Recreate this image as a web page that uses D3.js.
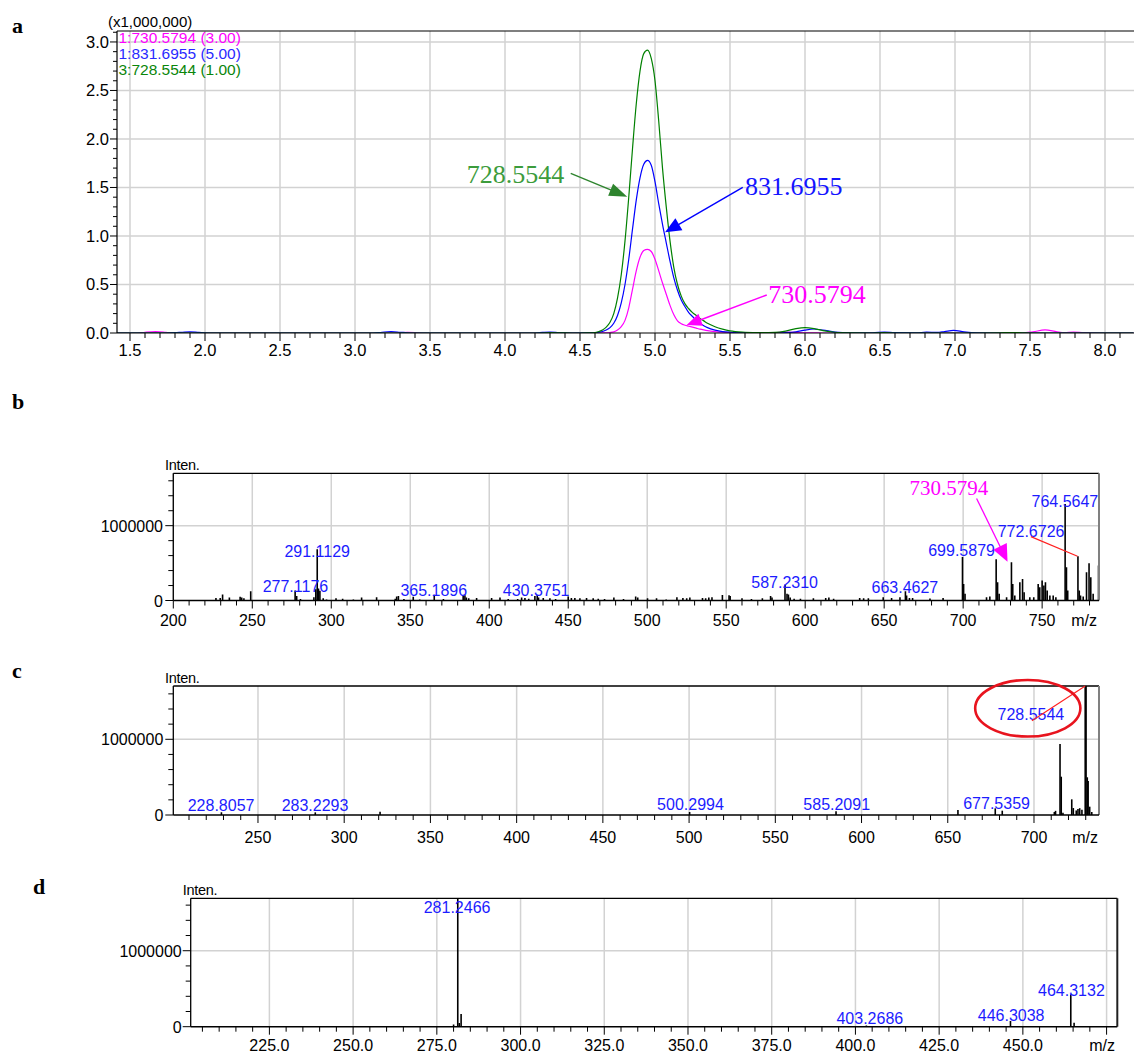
<!DOCTYPE html>
<html><head><meta charset="utf-8">
<script src="https://cdn.jsdelivr.net/npm/d3@7"></script>
<style>body{margin:0;background:#fff}svg{display:block}</style>
</head><body><svg id="c" width="1134" height="1055"></svg>
<script>
// ---------------- Panel a: extracted ion chromatograms ----------------
const rtA = [1.41,1.55,1.6,1.67,1.74,1.8,1.85,1.9,1.96,2.05,
 2.6,3.12,3.18,3.24,3.3,3.35,3.4,3.47,3.8,4.2,
 4.25,4.3,4.36,4.45,4.55,
 4.6,4.625,4.65,4.675,4.7,4.725,4.75,4.775,4.8,4.825,
 4.85,4.875,4.9,4.925,4.95,4.975,5.0,5.025,5.05,5.075,
 5.1,5.125,5.15,5.175,5.2,5.225,5.25,5.275,5.3,5.325,5.35,
 5.4,5.45,5.5,5.6,5.7,5.8,5.87,5.94,6.0,6.06,
 6.12,6.2,6.3,6.45,6.53,6.6,6.74,6.81,6.88,6.93,
 6.99,7.06,7.15,7.3,7.37,7.45,7.52,7.6,7.68,7.73,
 7.79,7.86,8.0,8.19];
const magentaA = [0,0,0.008,0.015,0.008,0,0,0,0,0,
 0,0,0,0,0.003,0.006,0.005,0,0,0,
 0,0,0,0,0,
 0,0,0.001,0.002,0.005,0.012,0.03,0.065,0.13,0.26,
 0.45,0.64,0.78,0.85,0.863,0.84,0.76,0.64,0.515,0.4,
 0.285,0.19,0.125,0.095,0.08,0.07,0.06,0.05,0.04,0.032,0.025,
 0.015,0.008,0.004,0.001,0,0.004,0.01,0.006,0.002,0.001,
 0,0,0,0,0,0,0,0,0,0,
 0,0,0,0,0,0,0.012,0.032,0.012,0.004,
 0.01,0.003,0,0];
const blueA = [0,0,0,0,0,0.003,0.008,0.012,0.006,0,
 0,0,0.008,0.014,0.008,0.002,0,0,0,0,
 0.006,0.01,0.004,0,0.001,
 0.003,0.008,0.015,0.03,0.055,0.1,0.18,0.31,0.5,0.76,
 1.07,1.37,1.6,1.74,1.78,1.73,1.56,1.33,1.12,0.93,
 0.74,0.57,0.44,0.34,0.27,0.21,0.17,0.13,0.1,0.075,0.055,
 0.03,0.015,0.008,0.003,0.001,0,0.003,0.012,0.03,0.041,
 0.03,0.01,0.002,0.002,0.01,0.004,0.002,0.008,0.006,0.015,
 0.027,0.012,0.002,0,0,0,0,0,0,0,
 0,0,0,0];
const greenA = [0,0,0,0,0,0,0,0,0,0,
 0,0,0,0,0,0,0,0,0,0,
 0,0.003,0.002,0,0.002,
 0.005,0.015,0.03,0.06,0.11,0.2,0.36,0.6,0.95,1.4,
 1.9,2.36,2.7,2.88,2.915,2.83,2.6,2.18,1.7,1.3,
 0.95,0.68,0.5,0.38,0.3,0.25,0.21,0.18,0.15,0.125,0.1,
 0.065,0.04,0.022,0.008,0.003,0.006,0.02,0.045,0.055,0.045,
 0.025,0.008,0.002,0,0.003,0,0,0,0,0,
 0,0,0,0.002,0.005,0.002,0,0,0,0,
 0,0,0,0];
const legendA = ["1:730.5794 (3.00)", "1:831.6955 (5.00)", "3:728.5544 (1.00)"];
const xTicksA = [1.5,2.0,2.5,3.0,3.5,4.0,4.5,5.0,5.5,6.0,6.5,7.0,7.5,8.0];
const yTicksA = [0,0.5,1.0,1.5,2.0,2.5,3.0];
// annotations: [label, labelT, labelV, fromT, fromV, toT, toV]
const annotA = [
  ["728.5544", 3.745, 1.543, 4.438, 1.646, 4.815, 1.405],
  ["831.6955", 5.600, 1.423, 5.585, 1.502, 5.067, 1.038],
  ["730.5794", 5.755, 0.306, 5.745, 0.392, 5.211, 0.082]
];

// ---------------- Panel b: MS spectrum ----------------
const mzB = [227.0,229.7,231.2,235.5,242.3,243.3,244.7,249.0,277.12,278.1,
 280.5,289.0,290.2,291.11,291.9,292.8,294.9,297.0,303.0,307.2,
 314.0,319.2,328.7,340.5,341.4,342.5,346.0,351.9,356.0,365.19,
 371.0,383.5,384.6,385.5,387.0,392.0,401.5,406.8,412.0,418.0,
 420.5,422.6,425.0,428.9,430.38,431.2,434.2,438.4,442.0,450.0,
 452.0,454.2,457.4,461.6,465.8,469.0,473.0,478.9,485.0,492.7,
 494.0,500.2,505.9,512.0,518.8,522.6,525.0,527.0,535.0,537.0,
 539.0,541.0,547.6,551.8,552.5,560.0,566.0,572.9,578.1,579.0,
 587.23,588.5,589.4,590.5,593.0,597.0,605.2,613.0,615.0,618.0,
 634.5,637.0,640.0,649.4,654.7,660.0,663.46,664.2,666.0,668.0,
 679.0,687.3,699.59,700.3,701.2,714.8,716.9,720.9,721.8,722.8,
 727.5,730.58,731.4,732.7,735.9,737.6,738.6,742.2,744.7,747.5,
 748.5,750.0,751.1,752.1,753.2,754.9,757.0,758.7,764.56,765.4,
 766.2,772.67,773.5,774.3,776.0,778.1,779.7,780.8,782.3,785.7];
const intB = [35000,35000,80000,40000,50000,40000,30000,125000,133000,60000,
 20000,45000,150000,685000,160000,130000,30000,15000,30000,25000,
 15000,40000,45000,25000,55000,60000,20000,50000,15000,76000,
 20000,65000,70000,40000,30000,35000,35000,40000,20000,20000,
 40000,35000,25000,60000,72000,40000,35000,30000,20000,55000,
 35000,35000,30000,35000,30000,25000,20000,40000,20000,55000,
 40000,30000,30000,15000,45000,35000,30000,40000,35000,30000,
 40000,45000,75000,70000,60000,30000,20000,30000,60000,40000,
 215000,90000,80000,40000,25000,25000,30000,35000,40000,25000,
 35000,30000,30000,45000,35000,45000,124000,67000,35000,35000,
 27000,35000,582000,222000,90000,45000,53000,551000,245000,90000,
 45000,511000,222000,67000,245000,289000,110000,45000,45000,222000,
 178000,267000,200000,245000,133000,67000,67000,45000,1290000,444000,
 133000,591000,133000,67000,53000,378000,498000,311000,89000,467000];
// peak labels: [text, centre m/z, baseline intensity]
const labelsB = [["277.1176",277.3,118000],["291.1129",291.1,585000],["365.1896",364.9,60000],
 ["430.3751",429.7,60000],["587.2310",587.0,167000],["663.4627",663.1,96000],
 ["699.5879",699.0,599000],["772.6726",743.0,853000],["764.5647",764.4,1246000]];
const xTicksB = [200,250,300,350,400,450,500,550,600,650,700,750];

// ---------------- Panel c: MS/MS spectrum ----------------
const mzC = [228.81,283.23,320.8,500.3,585.21,655.9,677.54,681.6,711.8,712.5,
 715.1,715.8,716.8,721.9,722.8,724.5,725.5,726.5,727.8,729.7,
 730.2,730.9,731.4,732.3,733.5];
const intC = [35000,35000,44000,40000,50000,66000,88000,57000,40000,55000,
 938000,506000,30000,207000,92000,60000,80000,90000,70000,1800000,
 1800000,498000,450000,110000,40000];
const labelsC = [["228.8057",228.6,53000],["283.2293",283.1,53000],["500.2994",500.8,66000],
 ["585.2091",585.6,66000],["677.5359",678.3,79000],["728.5544",698.2,1255000]];
const xTicksC = [250,300,350,400,450,500,550,600,650,700];

// ---------------- Panel d: MS/MS spectrum ----------------
const mzD = [280.0,281.25,281.7,282.25,403.27,446.3,464.31,465.3];
const intD = [30000,1690000,50000,167000,15000,75000,426000,53000];
const labelsD = [["281.2466",281.05,1500000],["403.2686",404.3,35000],
 ["446.3038",446.5,79000],["464.3132",464.5,408000]];
const xTicksD = [225,250,275,300,325,350,375,400,425,450,475];

// ====================== drawing ======================
const svg = d3.select("#c");
const SANS = "'Liberation Sans', Arial, sans-serif";
const SERIF = "'Liberation Serif', 'Times New Roman', serif";
const GRID = "#d2d2d2";
const LBLUE = "#1c1cff";

function arrow(g, x1, y1, x2, y2, color, len, wid, sw) {
  const dx = x2 - x1, dy = y2 - y1, L = Math.hypot(dx, dy);
  const ux = dx / L, uy = dy / L, px = -uy, py = ux;
  const bx = x2 - ux * len, by = y2 - uy * len;
  g.append("line").attr("x1", x1).attr("y1", y1).attr("x2", bx + ux * 2).attr("y2", by + uy * 2)
    .attr("stroke", color).attr("stroke-width", sw || 1.3);
  g.append("polygon").attr("points", [[x2, y2], [bx + px * wid / 2, by + py * wid / 2], [bx - px * wid / 2, by - py * wid / 2]].map(p => p.join(",")).join(" "))
    .attr("fill", color);
}

function letter(t, x, y) {
  svg.append("text").attr("x", x).attr("y", y).text(t)
    .attr("font-family", SERIF).attr("font-weight", "bold").attr("font-size", 22).attr("fill", "#000");
}

// ---- panel a ----
(function () {
  const L = 117, R = 1134, T = 31, B = 333;
  const x = d3.scaleLinear().domain([1.4133, 8.1933]).range([L, R]);
  const y = d3.scaleLinear().domain([0, 3.113]).range([B, T]);
  const g = svg.append("g");
  g.selectAll(null).data(xTicksA).join("line")
    .attr("x1", d => x(d)).attr("x2", d => x(d)).attr("y1", T).attr("y2", B)
    .attr("stroke", GRID).attr("stroke-width", 1.5);
  g.selectAll(null).data(yTicksA.slice(1)).join("line")
    .attr("x1", L).attr("x2", R).attr("y1", d => y(d)).attr("y2", d => y(d))
    .attr("stroke", GRID).attr("stroke-width", 1.5);

  svg.append("clipPath").attr("id", "clipA").append("rect")
    .attr("x", L).attr("y", T).attr("width", R - L).attr("height", B - T);
  const line = d3.line().x(d => x(d[0])).y(d => y(d[1])).curve(d3.curveMonotoneX);
  const series = [[magentaA, "#ff00ff"], [blueA, "#0000ff"], [greenA, "#008000"]];
  series.forEach(([vals, col]) => {
    g.append("path").attr("clip-path", "url(#clipA)")
      .attr("d", line(rtA.map((t, i) => [t, vals[i]])))
      .attr("fill", "none").attr("stroke", col).attr("stroke-width", 1.2);
  });

  // frame & axes
  g.append("line").attr("x1", L).attr("x2", R).attr("y1", T).attr("y2", T).attr("stroke", "#000").attr("stroke-width", 1.2);
  g.append("line").attr("x1", L).attr("x2", L).attr("y1", T).attr("y2", B).attr("stroke", "#000").attr("stroke-width", 1.2);
  g.append("line").attr("x1", L).attr("x2", R).attr("y1", B).attr("y2", B).attr("stroke", "#000").attr("stroke-width", 1.2);

  const xMinor = d3.range(15, 82).map(i => i / 10);
  g.selectAll(null).data(xMinor).join("line")
    .attr("x1", d => x(d)).attr("x2", d => x(d)).attr("y1", B)
    .attr("y2", (d, i) => (Math.round(d * 10) % 5 === 0) ? B + 8 : B + 5)
    .attr("stroke", "#000").attr("stroke-width", 1);
  const yMinor = d3.range(0, 32).map(i => i / 10);
  g.selectAll(null).data(yMinor).join("line")
    .attr("y1", d => y(d)).attr("y2", d => y(d)).attr("x1", L)
    .attr("x2", d => (Math.round(d * 10) % 5 === 0) ? L - 7 : L - 4)
    .attr("stroke", "#000").attr("stroke-width", 1);

  g.selectAll(null).data(xTicksA).join("text")
    .attr("x", d => x(d)).attr("y", 356).attr("text-anchor", "middle")
    .attr("font-family", SANS).attr("font-size", 16.5).text(d3.format(".1f"));
  g.selectAll(null).data(yTicksA).join("text")
    .attr("x", 109).attr("y", d => y(d) + 6).attr("text-anchor", "end")
    .attr("font-family", SANS).attr("font-size", 16.5).text(d3.format(".1f"));
  g.append("text").attr("x", 108).attr("y", 26.5).attr("font-family", SANS).attr("font-size", 15).text("(x1,000,000)");

  const legCols = ["#ff00ff", "#2a2aff", "#0a860a"];
  legendA.forEach((t, i) => g.append("text").attr("x", 118.5).attr("y", 42.5 + i * 16)
    .attr("font-family", SANS).attr("font-size", 15.5).attr("fill", legCols[i]).text(t));

  const aCols = [["#3c9c3c", "#2e842e", 18, 13], ["#1414ff", "#0000ff", 16, 14], ["#ff00ff", "#ff00ff", 15, 13]];
  annotA.forEach((a, i) => {
    arrow(g, x(a[3]), y(a[4]), x(a[5]), y(a[6]), aCols[i][1], aCols[i][2], aCols[i][3], 1.4);
    g.append("text").attr("x", x(a[1])).attr("y", y(a[2])).attr("font-family", SERIF)
      .attr("font-size", 26).attr("fill", aCols[i][0]).text(a[0]);
  });
})();

// ---- spectra ----
function spectrum(p) {
  const x = d3.scaleLinear().domain(p.xDomain).range([p.left, p.right]);
  const y = d3.scaleLinear().domain([0, p.yMax]).range([p.bottom, p.top]);
  const g = svg.append("g");
  const id = "clip" + p.name;
  svg.append("clipPath").attr("id", id).append("rect")
    .attr("x", p.left).attr("y", p.top).attr("width", p.right - p.left).attr("height", p.bottom - p.top);
  g.selectAll(null).data(p.xTicks).join("line")
    .attr("x1", d => x(d)).attr("x2", d => x(d)).attr("y1", p.top).attr("y2", p.bottom)
    .attr("stroke", GRID).attr("stroke-width", 1.5);
  g.append("line").attr("x1", p.left).attr("x2", p.right).attr("y1", y(1e6)).attr("y2", y(1e6))
    .attr("stroke", GRID).attr("stroke-width", 1.5);

  g.append("g").attr("clip-path", `url(#${id})`).selectAll("line")
    .data(p.mz.map((m, i) => [m, p.int[i]])).join("line")
    .attr("x1", d => x(d[0])).attr("x2", d => x(d[0])).attr("y1", y(0)).attr("y2", d => y(d[1]))
    .attr("stroke", "#000").attr("stroke-width", 1.6);

  // frame
  g.append("line").attr("x1", p.left).attr("x2", p.right).attr("y1", p.top).attr("y2", p.top).attr("stroke", "#000").attr("stroke-width", 1.3);
  g.append("line").attr("x1", p.right).attr("x2", p.right).attr("y1", p.top).attr("y2", p.bottom).attr("stroke", p.rightCol).attr("stroke-width", 2);
  g.append("line").attr("x1", p.left).attr("x2", p.left).attr("y1", p.top).attr("y2", p.bottom).attr("stroke", "#000").attr("stroke-width", 1.3);
  g.append("line").attr("x1", p.left).attr("x2", p.right).attr("y1", p.bottom).attr("y2", p.bottom).attr("stroke", "#000").attr("stroke-width", 1.6);

  // x ticks
  const minors = d3.range(Math.ceil(p.xDomain[0] / p.minor), Math.floor(p.xDomain[1] / p.minor) + 1).map(i => i * p.minor);
  g.selectAll(null).data(minors).join("line")
    .attr("x1", d => x(d)).attr("x2", d => x(d)).attr("y1", p.bottom)
    .attr("y2", d => (Math.round(d) % p.major === 0) ? p.bottom + 8 : p.bottom + 5)
    .attr("stroke", "#000").attr("stroke-width", 1);
  // y ticks
  const yMin = d3.range(0, Math.floor(p.yMax / 200000) + 1).map(i => i * 200000);
  g.selectAll(null).data(yMin).join("line")
    .attr("y1", d => y(d)).attr("y2", d => y(d)).attr("x1", p.left)
    .attr("x2", d => (d % 1000000 === 0) ? p.left - 8 : p.left - 5)
    .attr("stroke", "#000").attr("stroke-width", 1);

  g.selectAll(null).data(p.xLabels).join("text")
    .attr("x", d => x(d)).attr("y", p.labelY).attr("text-anchor", "middle")
    .attr("font-family", SANS).attr("font-size", 16).text(p.fmt);
  g.append("text").attr("x", p.mzX).attr("y", p.labelY).attr("text-anchor", "end")
    .attr("font-family", SANS).attr("font-size", 16).text("m/z");
  g.selectAll(null).data([0, 1000000]).join("text")
    .attr("x", p.yLabX).attr("y", d => y(d) + 6).attr("text-anchor", "end")
    .attr("font-family", SANS).attr("font-size", 16).text(d => String(d));
  g.append("text").attr("x", p.intenX).attr("y", p.top - 3.5).attr("font-family", SANS)
    .attr("font-size", 14.5).attr("letter-spacing", -0.3).text("Inten.");

  g.selectAll(null).data(p.labels).join("text")
    .attr("x", d => x(d[1])).attr("y", d => y(d[2])).attr("text-anchor", "middle")
    .attr("font-family", SANS).attr("font-size", 16).attr("fill", LBLUE).text(d => d[0]);
  return { x, y, g };
}

const pb = spectrum({ name: "b", left: 173.3, right: 1099, top: 473.3, bottom: 600.5,
  xDomain: [200, 786], yMax: 1700000, major: 50, minor: 10, xTicks: xTicksB, xLabels: xTicksB,
  fmt: d => String(d), labelY: 626, mzX: 1097, yLabX: 163, intenX: 165, rightCol: "#808080",
  mz: mzB, int: intB, labels: labelsB });
// red leader line to 772.6726 and magenta arrow to 730.5794
pb.g.append("line").attr("x1", pb.x(742.9)).attr("y1", pb.y(853000)).attr("x2", pb.x(772.4)).attr("y2", pb.y(591000))
  .attr("stroke", "#ff2020").attr("stroke-width", 1.2);
arrow(pb.g, pb.x(708.5), pb.y(1364000), pb.x(728.1), pb.y(519000), "#ff00ff", 17, 15, 1.3);
pb.g.append("text").attr("x", pb.x(690.9)).attr("y", pb.y(1410000)).attr("text-anchor", "middle")
  .attr("font-family", SERIF).attr("font-size", 21).attr("fill", "#ff00ff").text("730.5794");

const pc = spectrum({ name: "c", left: 173.3, right: 1099, top: 686, bottom: 815,
  xDomain: [200.9, 737.7], yMax: 1704000, major: 50, minor: 10, xTicks: xTicksC, xLabels: xTicksC,
  fmt: d => String(d), labelY: 842.5, mzX: 1098, yLabX: 163.3, intenX: 165, rightCol: "#808080",
  mz: mzC, int: intC, labels: labelsC });
pc.g.append("line").attr("x1", pc.x(698.8)).attr("y1", pc.y(1246000)).attr("x2", pc.x(729.7)).attr("y2", pc.y(1704000))
  .attr("stroke", "#ff2020").attr("stroke-width", 1.1);
pc.g.append("ellipse").attr("cx", pc.x(696.4)).attr("cy", pc.y(1410000))
  .attr("rx", pc.x(696.4 + 30.5) - pc.x(696.4)).attr("ry", pc.y(0) - pc.y(374000))
  .attr("fill", "none").attr("stroke", "#e8141e").attr("stroke-width", 2.6);

const pd = spectrum({ name: "d", left: 190.7, right: 1117.3, top: 898.3, bottom: 1026.7,
  xDomain: [201.5, 478.2], yMax: 1690000, major: 25, minor: 5, xTicks: xTicksD, xLabels: xTicksD.slice(0, -1),
  fmt: d3.format(".1f"), labelY: 1050.5, mzX: 1115, yLabX: 181.7, intenX: 182.7, rightCol: "#202020",
  mz: mzD, int: intD, labels: labelsD });

letter("a", 12, 33);
letter("b", 12, 409);
letter("c", 12, 678);
letter("d", 33, 894);
</script></body></html>
